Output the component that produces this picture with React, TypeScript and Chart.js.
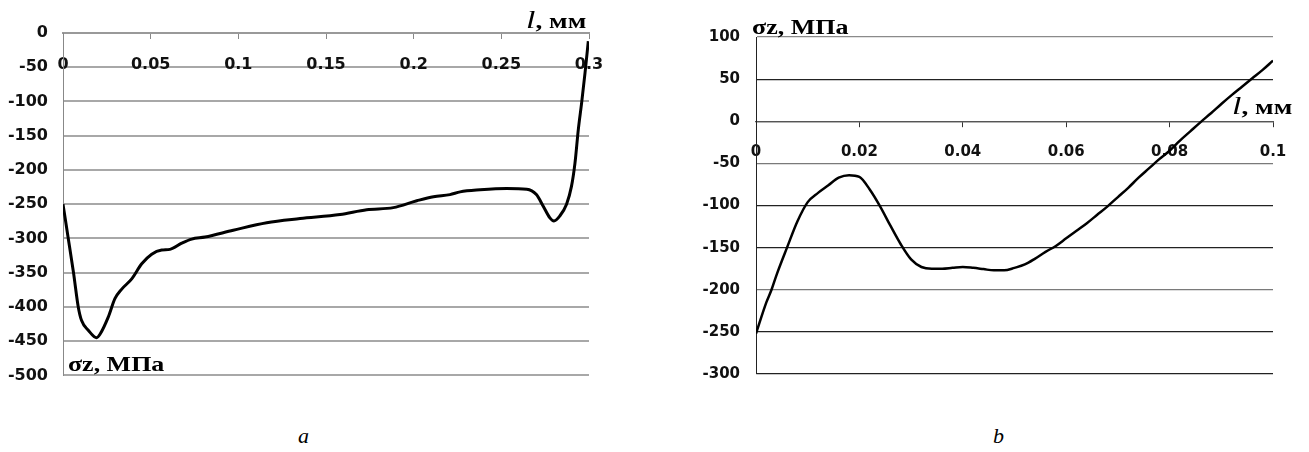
import React, { useEffect, useRef } from "react";
import { Chart, registerables } from "chart.js";

Chart.register(...registerables);

// ---------- Chart a data ----------
const A_L = [0, 0.003, 0.006, 0.0087, 0.0106, 0.0144, 0.0192, 0.0211, 0.0258, 0.0296, 0.0335, 0.0392, 0.0449, 0.0506, 0.0563, 0.061, 0.0677, 0.0734, 0.081, 0.0971, 0.1162, 0.1352, 0.158, 0.1732, 0.1884, 0.2018, 0.2113, 0.2207, 0.2265, 0.2379, 0.2531, 0.2645, 0.27, 0.2739, 0.2777, 0.28, 0.2834, 0.2872, 0.29, 0.292, 0.2939, 0.2958, 0.2977, 0.2996];
const A_SIGMA = [-250, -300, -350, -400, -420, -434, -445, -440, -415, -388, -374, -359, -337, -323, -317, -316, -307, -301, -298, -288, -277, -271, -265, -258, -255, -245, -239, -236, -232, -229, -227, -228, -236, -253, -270, -274.5, -267, -250, -224, -190, -141, -102, -59, -12];
const A_X_TICKS = [0, 0.05, 0.1, 0.15, 0.2, 0.25, 0.3];
const A_X_LABELS = ["0", "0.05", "0.1", "0.15", "0.2", "0.25", "0.3"];
const A_Y_TICKS = [0, -50, -100, -150, -200, -250, -300, -350, -400, -450, -500];
const A_Y_LABELS = ["0", "-50", "-100", "-150", "-200", "-250", "-300", "-350", "-400", "-450", "-500"];

// ---------- Chart b data ----------
const B_L = [0, 0.002, 0.003, 0.004, 0.006, 0.008, 0.01, 0.012, 0.014, 0.016, 0.018, 0.02, 0.022, 0.024, 0.026, 0.028, 0.03, 0.032, 0.034, 0.036, 0.038, 0.04, 0.042, 0.044, 0.046, 0.048, 0.05, 0.052, 0.054, 0.056, 0.058, 0.06, 0.062, 0.064, 0.066, 0.068, 0.07, 0.072, 0.074, 0.076, 0.078, 0.08, 0.082, 0.084, 0.086, 0.088, 0.09, 0.092, 0.094, 0.096, 0.098, 0.1];
const B_SIGMA = [-252, -215, -200, -182, -150, -119, -96, -85, -76, -67, -64, -66, -81, -101, -124, -146, -164, -173, -175, -175, -174, -173, -174, -175.5, -177, -177, -174, -170, -163, -155, -148, -139, -130, -121, -111, -101, -90, -79, -67, -56, -45, -35, -23, -12, -1, 9.5, 20.5, 31, 41, 51, 61, 72];
const B_X_TICKS = [0, 0.02, 0.04, 0.06, 0.08, 0.1];
const B_X_LABELS = ["0", "0.02", "0.04", "0.06", "0.08", "0.1"];
const B_Y_TICKS = [100, 50, 0, -50, -100, -150, -200, -250, -300];
const B_Y_LABELS = ["100", "50", "0", "-50", "-100", "-150", "-200", "-250", "-300"];

const AXIS_FONT = "'DejaVu Sans', 'Liberation Sans', Arial, sans-serif";

function makeChart(
  canvas: HTMLCanvasElement,
  xs: number[],
  ys: number[],
  xTicks: number[],
  xLabels: string[],
  yTicks: number[],
  yLabels: string[],
  cfg: any
) {
  const points = xs.map((x, i) => ({ x, y: ys[i] }));
  return new Chart(canvas, {
    type: "line",
    data: {
      datasets: [
        {
          data: points,
          borderColor: "#000",
          borderWidth: cfg.lineWidth,
          pointRadius: 0,
          cubicInterpolationMode: "monotone",
          fill: false,
        },
      ],
    },
    options: {
      responsive: false,
      animation: false,
      events: [],
      layout: { padding: cfg.padding },
      plugins: { legend: { display: false }, tooltip: { enabled: false }, title: { display: false } },
      scales: {
        x: {
          type: "linear",
          min: xTicks[0],
          max: xTicks[xTicks.length - 1],
          position: { y: 0 } as any,
          afterBuildTicks: (s: any) => {
            s.ticks = xTicks.map((v) => ({ value: v }));
          },
          ticks: {
            autoSkip: false,
            maxRotation: 0,
            padding: cfg.xPad,
            color: "#111",
            font: { family: AXIS_FONT, weight: "bold", size: cfg.fontSize },
            callback: (_v: any, i: number) => xLabels[i],
          },
          grid: {
            drawOnChartArea: false,
            drawTicks: true,
            tickLength: 5,
            color: cfg.xTickColor,
            lineWidth: 1,
          },
          border: { display: true, color: cfg.xAxisColor, width: cfg.xAxisWidth },
        },
        y: {
          type: "linear",
          min: Math.min(...yTicks),
          max: Math.max(...yTicks),
          afterBuildTicks: (s: any) => {
            s.ticks = yTicks.slice().reverse().map((v) => ({ value: v }));
          },
          afterFit: (s: any) => {
            s.width = cfg.yWidth;
          },
          ticks: {
            autoSkip: false,
            padding: cfg.yPad,
            color: "#111",
            font: { family: AXIS_FONT, weight: "bold", size: cfg.fontSize },
            callback: (v: any) => yLabels[yTicks.indexOf(v)],
          },
          grid: {
            drawTicks: false,
            color: cfg.gridColor,
            lineWidth: cfg.gridWidth,
          },
          border: { display: true, color: cfg.yAxisColor, width: 1 },
        },
      },
    } as any,
  });
}

function gridColorB(ctx: any) {
  const v = ctx.tick ? ctx.tick.value : 0;
  if (v === 100) return "#8a8a8a";
  if (v === -50 || v === -200) return "#7a7a7a";
  if (v === 0) return "#555";
  return "#222";
}

export default function App() {
  const refA = useRef<HTMLCanvasElement>(null);
  const refB = useRef<HTMLCanvasElement>(null);

  useEffect(() => {
    const ca = makeChart(refA.current!, A_L, A_SIGMA, A_X_TICKS, A_X_LABELS, A_Y_TICKS, A_Y_LABELS, {
      lineWidth: 3,
      padding: { left: 0, top: 33, right: 61, bottom: 23 },
      fontSize: 16,
      xPad: 17,
      yPad: 15,
      yWidth: 63,
      gridColor: "#a8a8a8",
      gridWidth: 2,
      xTickColor: "#888",
      xAxisColor: "#999",
      xAxisWidth: 2,
      yAxisColor: "#888",
    });
    const cb = makeChart(refB.current!, B_L, B_SIGMA, B_X_TICKS, B_X_LABELS, B_Y_TICKS, B_Y_LABELS, {
      lineWidth: 2.5,
      padding: { left: 0, top: 37, right: 36, bottom: 26 },
      fontSize: 15,
      xPad: 17,
      yPad: 16,
      yWidth: 106,
      gridColor: gridColorB,
      gridWidth: 1.2,
      xTickColor: "#333",
      xAxisColor: "#555",
      xAxisWidth: 1.2,
      yAxisColor: "#222",
    });
    return () => {
      ca.destroy();
      cb.destroy();
    };
  }, []);

  const serif = "'Liberation Serif', 'Times New Roman', serif";
  const abs = (left: number, top: number, extra: any = {}) => ({
    position: "absolute" as const,
    left,
    top,
    lineHeight: 1,
    whiteSpace: "nowrap" as const,
    fontFamily: serif,
    color: "#000",
    ...extra,
  });

  return (
    <div>
      <canvas ref={refA} width={650} height={400} style={{ position: "absolute", left: 0, top: 0, display: "block" }} />
      <canvas ref={refB} width={659} height={400} style={{ position: "absolute", left: 650, top: 0, display: "block" }} />

      {/* chart a annotations */}
      <div style={abs(526, 7, { transform: "scaleX(1.3)", transformOrigin: "left top" })}>
        <span style={{ fontStyle: "italic", fontSize: 26 }}>l</span>
        <span style={{ fontWeight: "bold", fontSize: 21 }}>, мм</span>
      </div>
      <div style={abs(68, 353, { fontWeight: "bold", fontSize: 22, transform: "scaleX(1.18)", transformOrigin: "left top" })}>σz, МПа</div>
      <div style={abs(298, 425, { fontStyle: "italic", fontSize: 22 })}>a</div>

      {/* chart b annotations */}
      <div style={abs(752, 17, { fontWeight: "bold", fontSize: 20, transform: "scaleX(1.3)", transformOrigin: "left top" })}>σz, МПа</div>
      <div style={abs(1232, 93, { transform: "scaleX(1.3)", transformOrigin: "left top" })}>
        <span style={{ fontStyle: "italic", fontSize: 26 }}>l</span>
        <span style={{ fontWeight: "bold", fontSize: 21 }}>, мм</span>
      </div>
      <div style={abs(993, 425, { fontStyle: "italic", fontSize: 22 })}>b</div>
    </div>
  );
}
